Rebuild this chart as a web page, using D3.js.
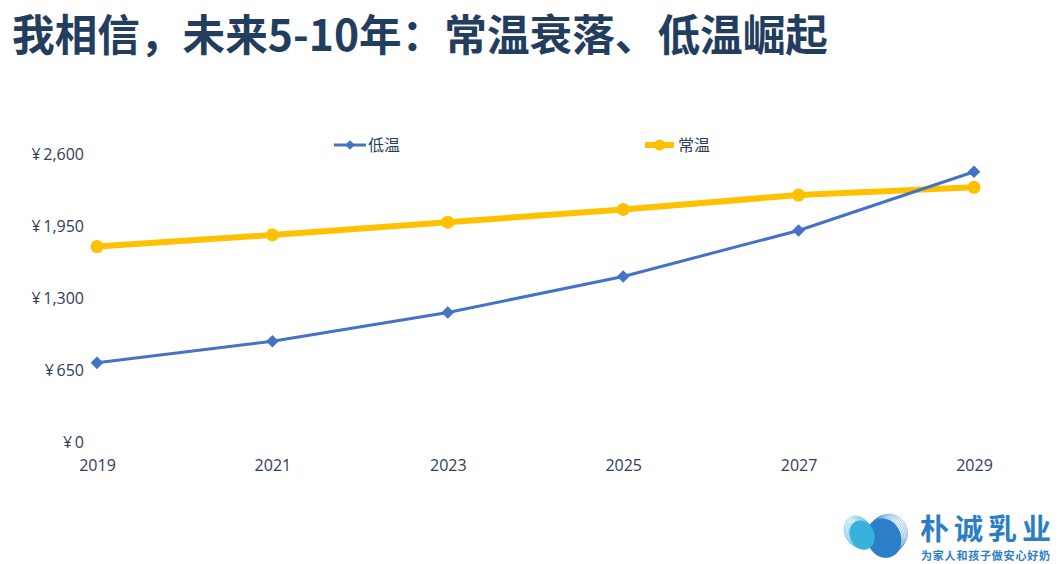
<!DOCTYPE html>
<html><head><meta charset="utf-8">
<script src="https://cdn.jsdelivr.net/npm/d3@7"></script>
<style>
html,body{margin:0;padding:0;background:#fff;}
svg{display:block;}
</style>
</head><body>
<svg id="c" width="1058" height="564"></svg>
<script>
const titleText = "我相信，未来5-10年：常温衰落、低温崛起";
const years = ["2019","2021","2023","2025","2027","2029"];
const lowTemp = [710, 905, 1165, 1490, 1905, 2435];      // 低温
const normalTemp = [1760, 1865, 1980, 2095, 2225, 2295]; // 常温
const yTicks = [0, 650, 1300, 1950, 2600];
const seriesNames = ["低温", "常温"];
const brandName = "朴诚乳业";
const brandSlogan = "为家人和孩子做安心好奶";

const svg = d3.select("#c");
const textColor = "#2e3d57";
const font = "'Open Sans','Noto Sans',sans-serif";

svg.append("text").attr("x", 12).attr("y", 51)
  .attr("font-family", "'Noto Sans CJK SC',sans-serif").attr("font-weight", 700)
  .attr("font-size", 43).attr("fill", "#233d5e")
  .attr("textLength", 816).attr("lengthAdjust", "spacingAndGlyphs").text(titleText);

const x = d3.scalePoint().domain(years).range([97, 974]);
const y = d3.scaleLinear().domain([0, 2600]).range([441.5, 153.5]);

const yAxis = d3.axisLeft(y).tickValues(yTicks).tickSize(0).tickPadding(0)
  .tickFormat(d => "¥\u2009" + d3.format(",")(d));
const gy = svg.append("g").attr("transform", "translate(84,0)").call(yAxis);
gy.select(".domain").remove();
gy.selectAll("text").attr("font-family", font).attr("font-size", 16).attr("fill", textColor).attr("dy", "0.35em");

const xAxis = d3.axisBottom(x).tickSize(0).tickPadding(0);
const gx = svg.append("g").attr("transform", "translate(0,459.5)").call(xAxis);
gx.select(".domain").remove();
gx.selectAll("text").attr("font-family", font).attr("font-size", 16).attr("fill", textColor).attr("dy", "0.71em");

const line = d3.line().x((d,i) => x(years[i])).y(d => y(d));

// 常温
svg.append("path").datum(normalTemp).attr("d", line).attr("fill", "none")
  .attr("stroke", "#ffc000").attr("stroke-width", 6).attr("stroke-linejoin", "round");
svg.selectAll(".nt").data(normalTemp).enter().append("circle")
  .attr("cx", (d,i) => x(years[i])).attr("cy", d => y(d)).attr("r", 6.5).attr("fill", "#ffc000");

// 低温
svg.append("path").datum(lowTemp).attr("d", line).attr("fill", "none")
  .attr("stroke", "#4472c4").attr("stroke-width", 3).attr("stroke-linejoin", "round");
svg.selectAll(".lt").data(lowTemp).enter().append("path")
  .attr("d", d3.symbol().type(d3.symbolSquare).size(80))
  .attr("transform", (d,i) => `translate(${x(years[i])},${y(d)}) rotate(45)`)
  .attr("fill", "#4472c4");

// legend
const lg1 = svg.append("g").attr("transform", "translate(334,145)");
lg1.append("line").attr("x1", 0).attr("x2", 32).attr("stroke", "#4472c4").attr("stroke-width", 3);
lg1.append("path").attr("d", d3.symbol().type(d3.symbolSquare).size(45)).attr("transform", "translate(16,0) rotate(45)").attr("fill", "#4472c4");
lg1.append("text").attr("x", 34).attr("dy", "0.35em").attr("font-family", "'Noto Sans CJK SC',sans-serif")
  .attr("font-size", 16).attr("fill", textColor).text(seriesNames[0]);

const lg2 = svg.append("g").attr("transform", "translate(645,145)");
lg2.append("line").attr("x1", 0).attr("x2", 29).attr("stroke", "#ffc000").attr("stroke-width", 6);
lg2.append("circle").attr("cx", 14.5).attr("r", 5.5).attr("fill", "#ffc000");
lg2.append("text").attr("x", 33).attr("dy", "0.35em").attr("font-family", "'Noto Sans CJK SC',sans-serif")
  .attr("font-size", 16).attr("fill", textColor).text(seriesNames[1]);

// logo
const logo = svg.append("g");
for (let k = 5; k >= 0; k--) {
  logo.append("ellipse").attr("cx", 884 + k*1.2).attr("cy", 538 - k*0.6).attr("rx", 17 + k*0.4).attr("ry", 20 - k*0.2)
    .attr("fill", k === 0 ? "#2b7fc6" : "none").attr("stroke", "#2b7fc6").attr("stroke-opacity", 0.5).attr("stroke-width", 0.8)
    .attr("transform", `rotate(-20,884,538)`);
}
for (let k = 4; k >= 0; k--) {
  logo.append("ellipse").attr("cx", 862 - k*0.6).attr("cy", 535 - k*1.2).attr("rx", 12 + k*0.3).attr("ry", 15 + k*0.3)
    .attr("fill", k === 0 ? "#38b1dc" : "none").attr("stroke", "#38b1dc").attr("stroke-opacity", 0.6).attr("stroke-width", 0.8)
    .attr("transform", `rotate(-25,862,535)`);
}
logo.append("text").attr("x", 920).attr("y", 540).attr("font-family", "'Noto Sans CJK SC',sans-serif")
  .attr("font-weight", 700).attr("font-size", 29).attr("fill", "#2b7dc4").attr("textLength", 131).text(brandName);
logo.append("text").attr("x", 921).attr("y", 560).attr("font-family", "'Noto Sans CJK SC',sans-serif")
  .attr("font-weight", 700).attr("font-size", 11).attr("fill", "#2b7dc4").attr("textLength", 129).text(brandSlogan);
</script>
</body></html>
